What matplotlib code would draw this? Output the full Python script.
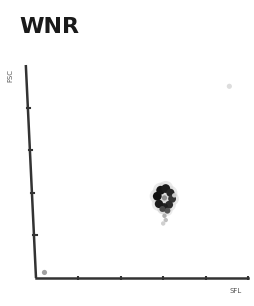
import matplotlib
matplotlib.use("Agg")
import matplotlib.pyplot as plt

# axis ticks
x_ticks = [1, 2, 3, 4, 5]
y_ticks = [1, 2, 3, 4]

# main cluster: ring-like blob with a faint tail below
cluster_x = [2.86, 2.94, 3.06, 3.17, 3.21, 3.14, 3.02, 2.90, 3.10, 2.98]
cluster_y = [1.92, 2.06, 2.10, 2.00, 1.86, 1.72, 1.66, 1.74, 1.58, 1.62]
cluster_s = [40, 40, 40, 34, 32, 32, 36, 36, 18, 18]
cluster_c = ["#111111", "#141414", "#1c1c1c", "#262626", "#353535", "#2c2c2c",
             "#202020", "#1a1a1a", "#555555", "#4a4a4a"]

tail_x = [3.03, 3.06, 3.00, 3.26]
tail_y = [1.46, 1.36, 1.28, 1.94]
tail_c = ["#b0b0b0", "#c0c0c0", "#d0d0d0", "#cccccc"]

# stray events
stray_x = [0.2, 4.56]
stray_y = [0.13, 4.5]
stray_c = ["#a0a0a0", "#dddddd"]

fig = plt.figure(figsize=(2.55, 3.06), dpi=100)
ax = fig.add_axes([36/255, 1 - 278/306, 212/255, 213/306])
ax.set_xlim(0, 5)
ax.set_ylim(0, 5)

ax.scatter(cluster_x, cluster_y, s=[v * 3.0 for v in cluster_s], c="#d6d6d6",
           edgecolors="none", alpha=0.5, zorder=2)
ax.scatter(cluster_x, cluster_y, s=cluster_s, c=cluster_c, edgecolors="none", zorder=3)
ax.scatter([3.03], [1.88], s=14, c="#8f8f8f", edgecolors="none", zorder=4)
ax.scatter(tail_x, tail_y, s=10, c=tail_c, edgecolors="none", zorder=3)
ax.scatter(stray_x, stray_y, s=14, c=stray_c, edgecolors="none", zorder=3)

for s in ["top", "right", "left"]:
    ax.spines[s].set_visible(False)
ax.spines["bottom"].set_linewidth(1.8)
ax.spines["bottom"].set_color("#333333")
# slightly slanted vertical axis as in the scan
ax.plot([0, -0.24], [0, 5], color="#333333", lw=1.8, clip_on=False,
        solid_capstyle="butt", zorder=5)

ax.set_xticks(x_ticks)
ax.set_yticks([])
ax.tick_params(axis="x", direction="inout", length=3, width=1.5, color="#333333",
               labelbottom=False)
for yt in y_ticks:
    ax.plot([-0.24 * yt / 5 - 0.02, -0.24 * yt / 5 + 0.06], [yt, yt],
            color="#333333", lw=1.5, clip_on=False)

fig.text(19/255, 1 - 27/306, "WNR", fontsize=16, fontweight="bold",
         color="#1a1a1a", va="center", ha="left")
fig.text(10/255, 1 - 76/306, "FSC", fontsize=5, rotation=90, color="#555555",
         va="center", ha="center")
fig.text(236/255, 1 - 291/306, "SFL", fontsize=5, color="#555555",
         va="center", ha="center")

fig.savefig("out.png", dpi=100, facecolor="white")
